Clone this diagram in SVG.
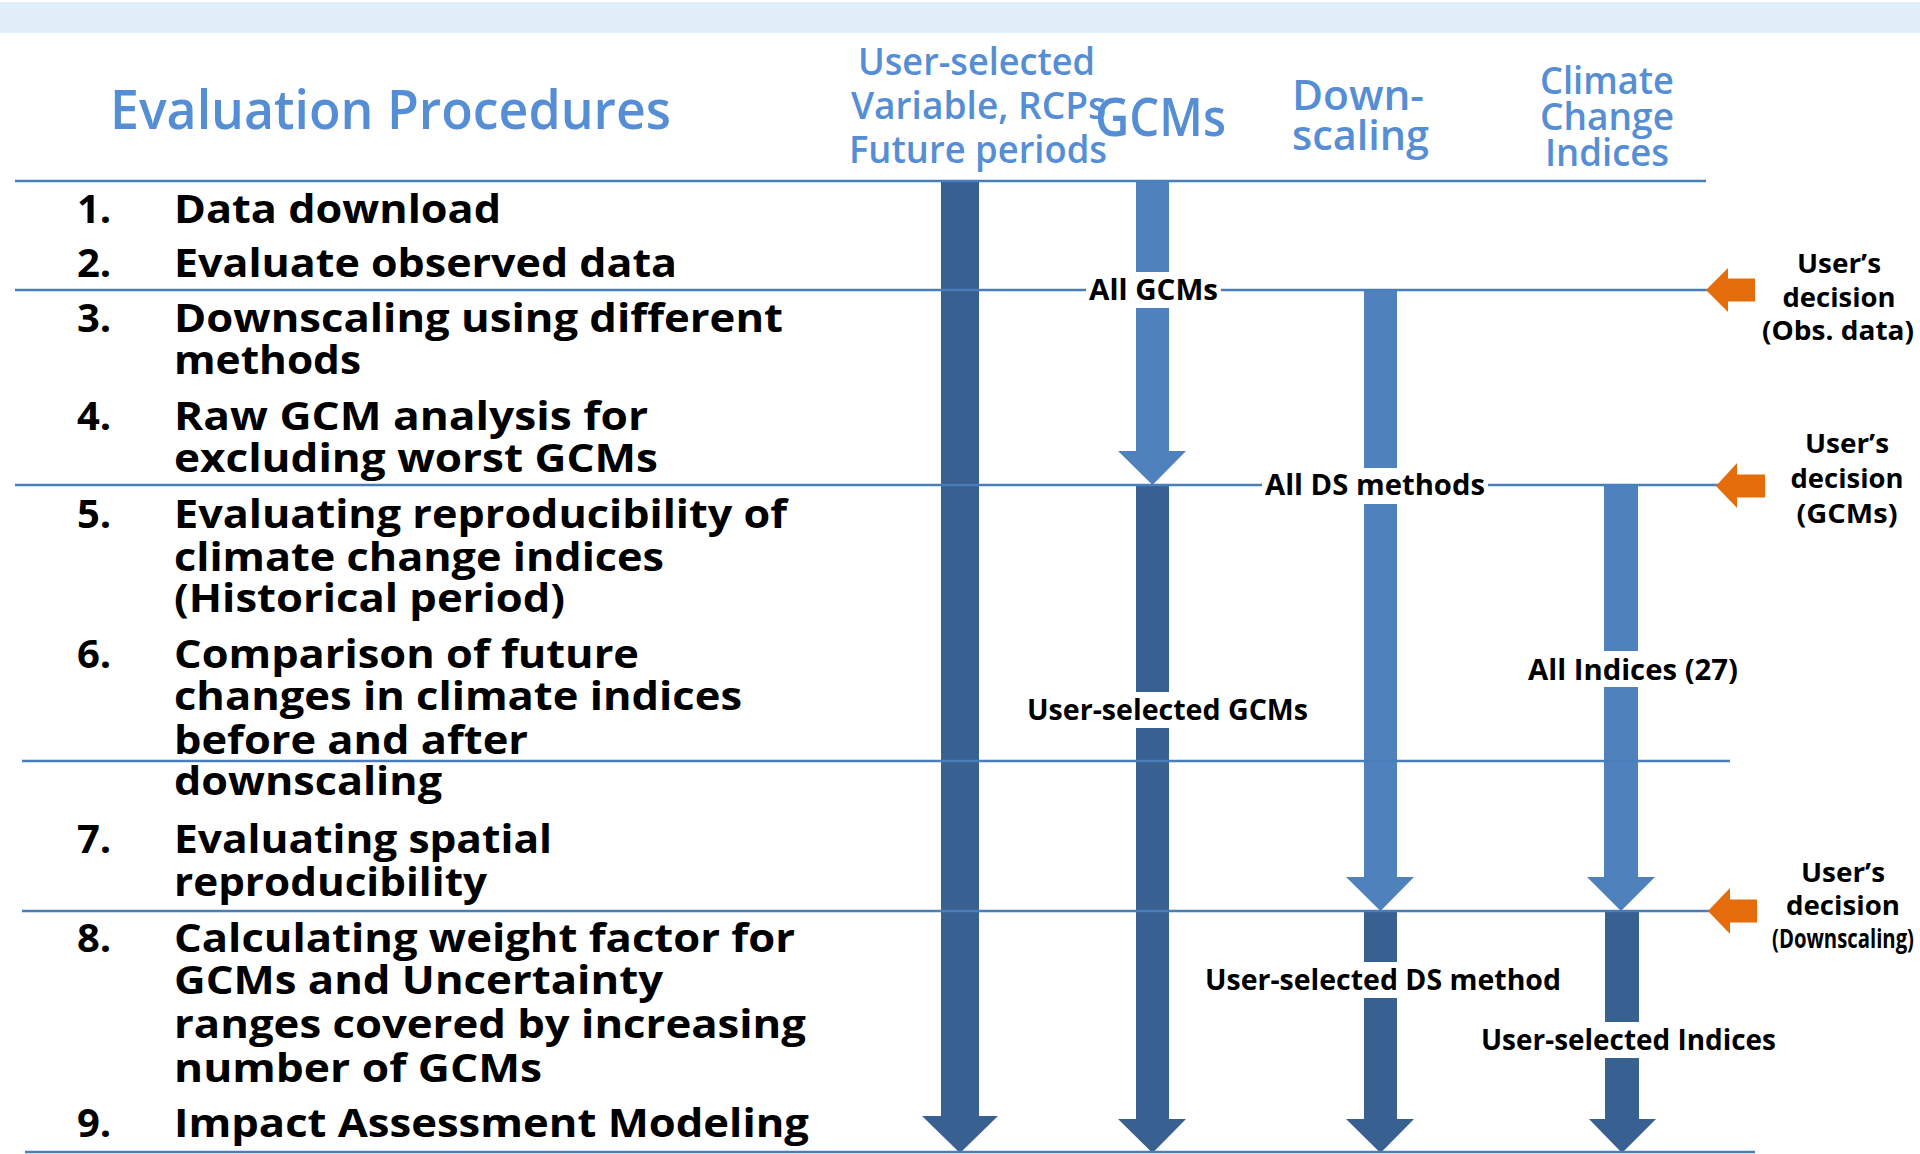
<svg xmlns="http://www.w3.org/2000/svg" width="1920" height="1154" viewBox="0 0 1920 1154">
<style>
  .hd { font-family: "Open Sans", "Noto Sans", sans-serif; font-weight: 600; fill: #558ED5; }
  .st { font-family: "Open Sans", "Noto Sans", sans-serif; font-weight: 700; fill: #000; font-size: 40px; }
  .lb { font-family: "Open Sans", "Noto Sans", sans-serif; font-weight: 700; fill: #000; font-size: 28px; }
  .dc { font-family: "Open Sans", "Noto Sans", sans-serif; font-weight: 700; fill: #000; font-size: 27px; text-anchor: middle; }
  .ln { stroke: #4A7EBB; stroke-width: 2.5; fill: none; }
  .lt { fill: #4F81BD; }
  .dk { fill: #386192; }
  .or { fill: #E46C0A; }
  .bg { fill: #FFFFFF; }
</style>
<rect x="0" y="0" width="1920" height="1154" fill="#FFFFFF"/>
<rect id="top-band" x="0" y="2" width="1920" height="31" fill="#E1EFF8"/>

<g id="title">
  <text class="hd" x="110" y="129" font-size="55" textLength="561" lengthAdjust="spacingAndGlyphs">Evaluation Procedures</text>
</g>

<g id="header-variables">
  <text class="hd" x="858" y="75" font-size="38" textLength="237" lengthAdjust="spacingAndGlyphs">User-selected</text>
  <text class="hd" x="851" y="119" font-size="38" textLength="255" lengthAdjust="spacingAndGlyphs">Variable, RCPs</text>
  <text class="hd" x="849" y="163" font-size="38" textLength="258" lengthAdjust="spacingAndGlyphs">Future periods</text>
</g>
<g id="header-gcms">
  <text class="hd" x="1095" y="136" font-size="53" textLength="131" lengthAdjust="spacingAndGlyphs">GCMs</text>
</g>
<g id="header-downscaling">
  <text class="hd" x="1292" y="110" font-size="42" textLength="132" lengthAdjust="spacingAndGlyphs">Down-</text>
  <text class="hd" x="1292" y="150" font-size="42" textLength="137" lengthAdjust="spacingAndGlyphs">scaling</text>
</g>
<g id="header-indices">
  <text class="hd" x="1540" y="94" font-size="37" textLength="134" lengthAdjust="spacingAndGlyphs">Climate</text>
  <text class="hd" x="1540" y="130" font-size="37" textLength="134" lengthAdjust="spacingAndGlyphs">Change</text>
  <text class="hd" x="1545" y="166" font-size="37" textLength="124" lengthAdjust="spacingAndGlyphs">Indices</text>
</g>

<g id="connectors">
  <!-- column 1: user-selected variables -->
  <polygon class="dk" points="941,181 979,181 979,1116 998,1116 960,1153 922,1116 941,1116"/>
  <!-- column 2: GCMs -->
  <polygon class="lt" points="1136,181 1169,181 1169,451 1186,451 1152.5,485 1118,451 1136,451"/>
  <polygon class="dk" points="1136,485 1169,485 1169,1119 1186,1119 1152.5,1153 1118,1119 1136,1119"/>
  <!-- column 3: downscaling -->
  <polygon class="lt" points="1364,290 1397,290 1397,877 1414,877 1380.5,911 1346,877 1364,877"/>
  <polygon class="dk" points="1364,911 1397,911 1397,1119 1414,1119 1380.5,1153 1346,1119 1364,1119"/>
  <!-- column 4: climate change indices -->
  <polygon class="lt" points="1604,485 1638,485 1638,877 1655,877 1621,911 1587,877 1604,877"/>
  <polygon class="dk" points="1605,911 1639,911 1639,1119 1656,1119 1622,1153 1589,1119 1605,1119"/>

  <!-- horizontal separators -->
  <line class="ln" x1="15" y1="181" x2="1706" y2="181"/>
  <line class="ln" x1="15" y1="290" x2="1708" y2="290"/>
  <line class="ln" x1="15" y1="485" x2="1718" y2="485"/>
  <line class="ln" x1="22" y1="761" x2="1730" y2="761"/>
  <line class="ln" x1="22" y1="911" x2="1710" y2="911"/>
  <line class="ln" x1="25" y1="1152" x2="1755" y2="1152"/>

  <!-- labels on the flows -->
  <rect class="bg" x="1086" y="272" width="135" height="36"/>
  <text class="lb" x="1089" y="300" textLength="129" lengthAdjust="spacingAndGlyphs">All GCMs</text>
  <rect class="bg" x="1262" y="468" width="226" height="36"/>
  <text class="lb" x="1265" y="495" textLength="220" lengthAdjust="spacingAndGlyphs">All DS methods</text>
  <rect class="bg" x="1024" y="692" width="288" height="36"/>
  <text class="lb" x="1027" y="720" textLength="281" lengthAdjust="spacingAndGlyphs">User-selected GCMs</text>
  <rect class="bg" x="1525" y="651" width="216" height="36"/>
  <text class="lb" x="1528" y="680" textLength="210" lengthAdjust="spacingAndGlyphs">All Indices (27)</text>
  <rect class="bg" x="1202" y="962" width="362" height="36"/>
  <text class="lb" x="1205" y="990" textLength="356" lengthAdjust="spacingAndGlyphs">User-selected DS method</text>
  <rect class="bg" x="1478" y="1022" width="301" height="36"/>
  <text class="lb" x="1481" y="1050" textLength="295" lengthAdjust="spacingAndGlyphs">User-selected Indices</text>
</g>

<g id="steps">
  <g id="step-1">
    <text class="st" x="77" y="223">1.</text>
    <text class="st" x="174" y="223" textLength="327" lengthAdjust="spacingAndGlyphs">Data download</text>
  </g>
  <g id="step-2">
    <text class="st" x="77" y="277">2.</text>
    <text class="st" x="174" y="277" textLength="503" lengthAdjust="spacingAndGlyphs">Evaluate observed data</text>
  </g>
  <g id="step-3">
    <text class="st" x="77" y="332">3.</text>
    <text class="st" x="174" y="332" textLength="609" lengthAdjust="spacingAndGlyphs">Downscaling using different</text>
    <text class="st" x="174" y="374" textLength="187" lengthAdjust="spacingAndGlyphs">methods</text>
  </g>
  <g id="step-4">
    <text class="st" x="77" y="430">4.</text>
    <text class="st" x="174" y="430" textLength="474" lengthAdjust="spacingAndGlyphs">Raw GCM analysis for</text>
    <text class="st" x="174" y="472" textLength="484" lengthAdjust="spacingAndGlyphs">excluding worst GCMs</text>
  </g>
  <g id="step-5">
    <text class="st" x="77" y="528">5.</text>
    <text class="st" x="174" y="528" textLength="613" lengthAdjust="spacingAndGlyphs">Evaluating reproducibility of</text>
    <text class="st" x="174" y="571" textLength="490" lengthAdjust="spacingAndGlyphs">climate change indices</text>
    <text class="st" x="174" y="612" textLength="391" lengthAdjust="spacingAndGlyphs">(Historical period)</text>
  </g>
  <g id="step-6">
    <text class="st" x="77" y="668">6.</text>
    <text class="st" x="174" y="668" textLength="465" lengthAdjust="spacingAndGlyphs">Comparison of future</text>
    <text class="st" x="174" y="710" textLength="568" lengthAdjust="spacingAndGlyphs">changes in climate indices</text>
    <text class="st" x="174" y="754" textLength="354" lengthAdjust="spacingAndGlyphs">before and after</text>
    <text class="st" x="174" y="795" textLength="268" lengthAdjust="spacingAndGlyphs">downscaling</text>
  </g>
  <g id="step-7">
    <text class="st" x="77" y="853">7.</text>
    <text class="st" x="174" y="853" textLength="378" lengthAdjust="spacingAndGlyphs">Evaluating spatial</text>
    <text class="st" x="174" y="896" textLength="313" lengthAdjust="spacingAndGlyphs">reproducibility</text>
  </g>
  <g id="step-8">
    <text class="st" x="77" y="952">8.</text>
    <text class="st" x="174" y="952" textLength="621" lengthAdjust="spacingAndGlyphs">Calculating weight factor for</text>
    <text class="st" x="174" y="994" textLength="489" lengthAdjust="spacingAndGlyphs">GCMs and Uncertainty</text>
    <text class="st" x="174" y="1038" textLength="632" lengthAdjust="spacingAndGlyphs">ranges covered by increasing</text>
    <text class="st" x="174" y="1082" textLength="368" lengthAdjust="spacingAndGlyphs">number of GCMs</text>
  </g>
  <g id="step-9">
    <text class="st" x="77" y="1137">9.</text>
    <text class="st" x="174" y="1137" textLength="635" lengthAdjust="spacingAndGlyphs">Impact Assessment Modeling</text>
  </g>
</g>

<g id="decision-obs">
  <polygon class="or" points="1706,290 1728,268 1728,278.5 1755,278.5 1755,301.5 1728,301.5 1728,312"/>
  <text class="dc" x="1839" y="273" textLength="84" lengthAdjust="spacingAndGlyphs">User’s</text>
  <text class="dc" x="1839" y="307" textLength="113" lengthAdjust="spacingAndGlyphs">decision</text>
  <text class="dc" x="1838" y="340" textLength="152" lengthAdjust="spacingAndGlyphs">(Obs. data)</text>
</g>
<g id="decision-gcms">
  <polygon class="or" points="1716,486 1737,463 1737,474.5 1765,474.5 1765,497.5 1737,497.5 1737,508"/>
  <text class="dc" x="1847" y="453" textLength="84" lengthAdjust="spacingAndGlyphs">User’s</text>
  <text class="dc" x="1847" y="488" textLength="113" lengthAdjust="spacingAndGlyphs">decision</text>
  <text class="dc" x="1847" y="523" textLength="101" lengthAdjust="spacingAndGlyphs">(GCMs)</text>
</g>
<g id="decision-downscaling">
  <polygon class="or" points="1708,911 1730,888 1730,899.5 1757,899.5 1757,922.5 1730,922.5 1730,934"/>
  <text class="dc" x="1843" y="882" textLength="84" lengthAdjust="spacingAndGlyphs">User’s</text>
  <text class="dc" x="1843" y="915" textLength="114" lengthAdjust="spacingAndGlyphs">decision</text>
  <text class="dc" x="1843" y="948" textLength="142" lengthAdjust="spacingAndGlyphs">(Downscaling)</text>
</g>
</svg>
